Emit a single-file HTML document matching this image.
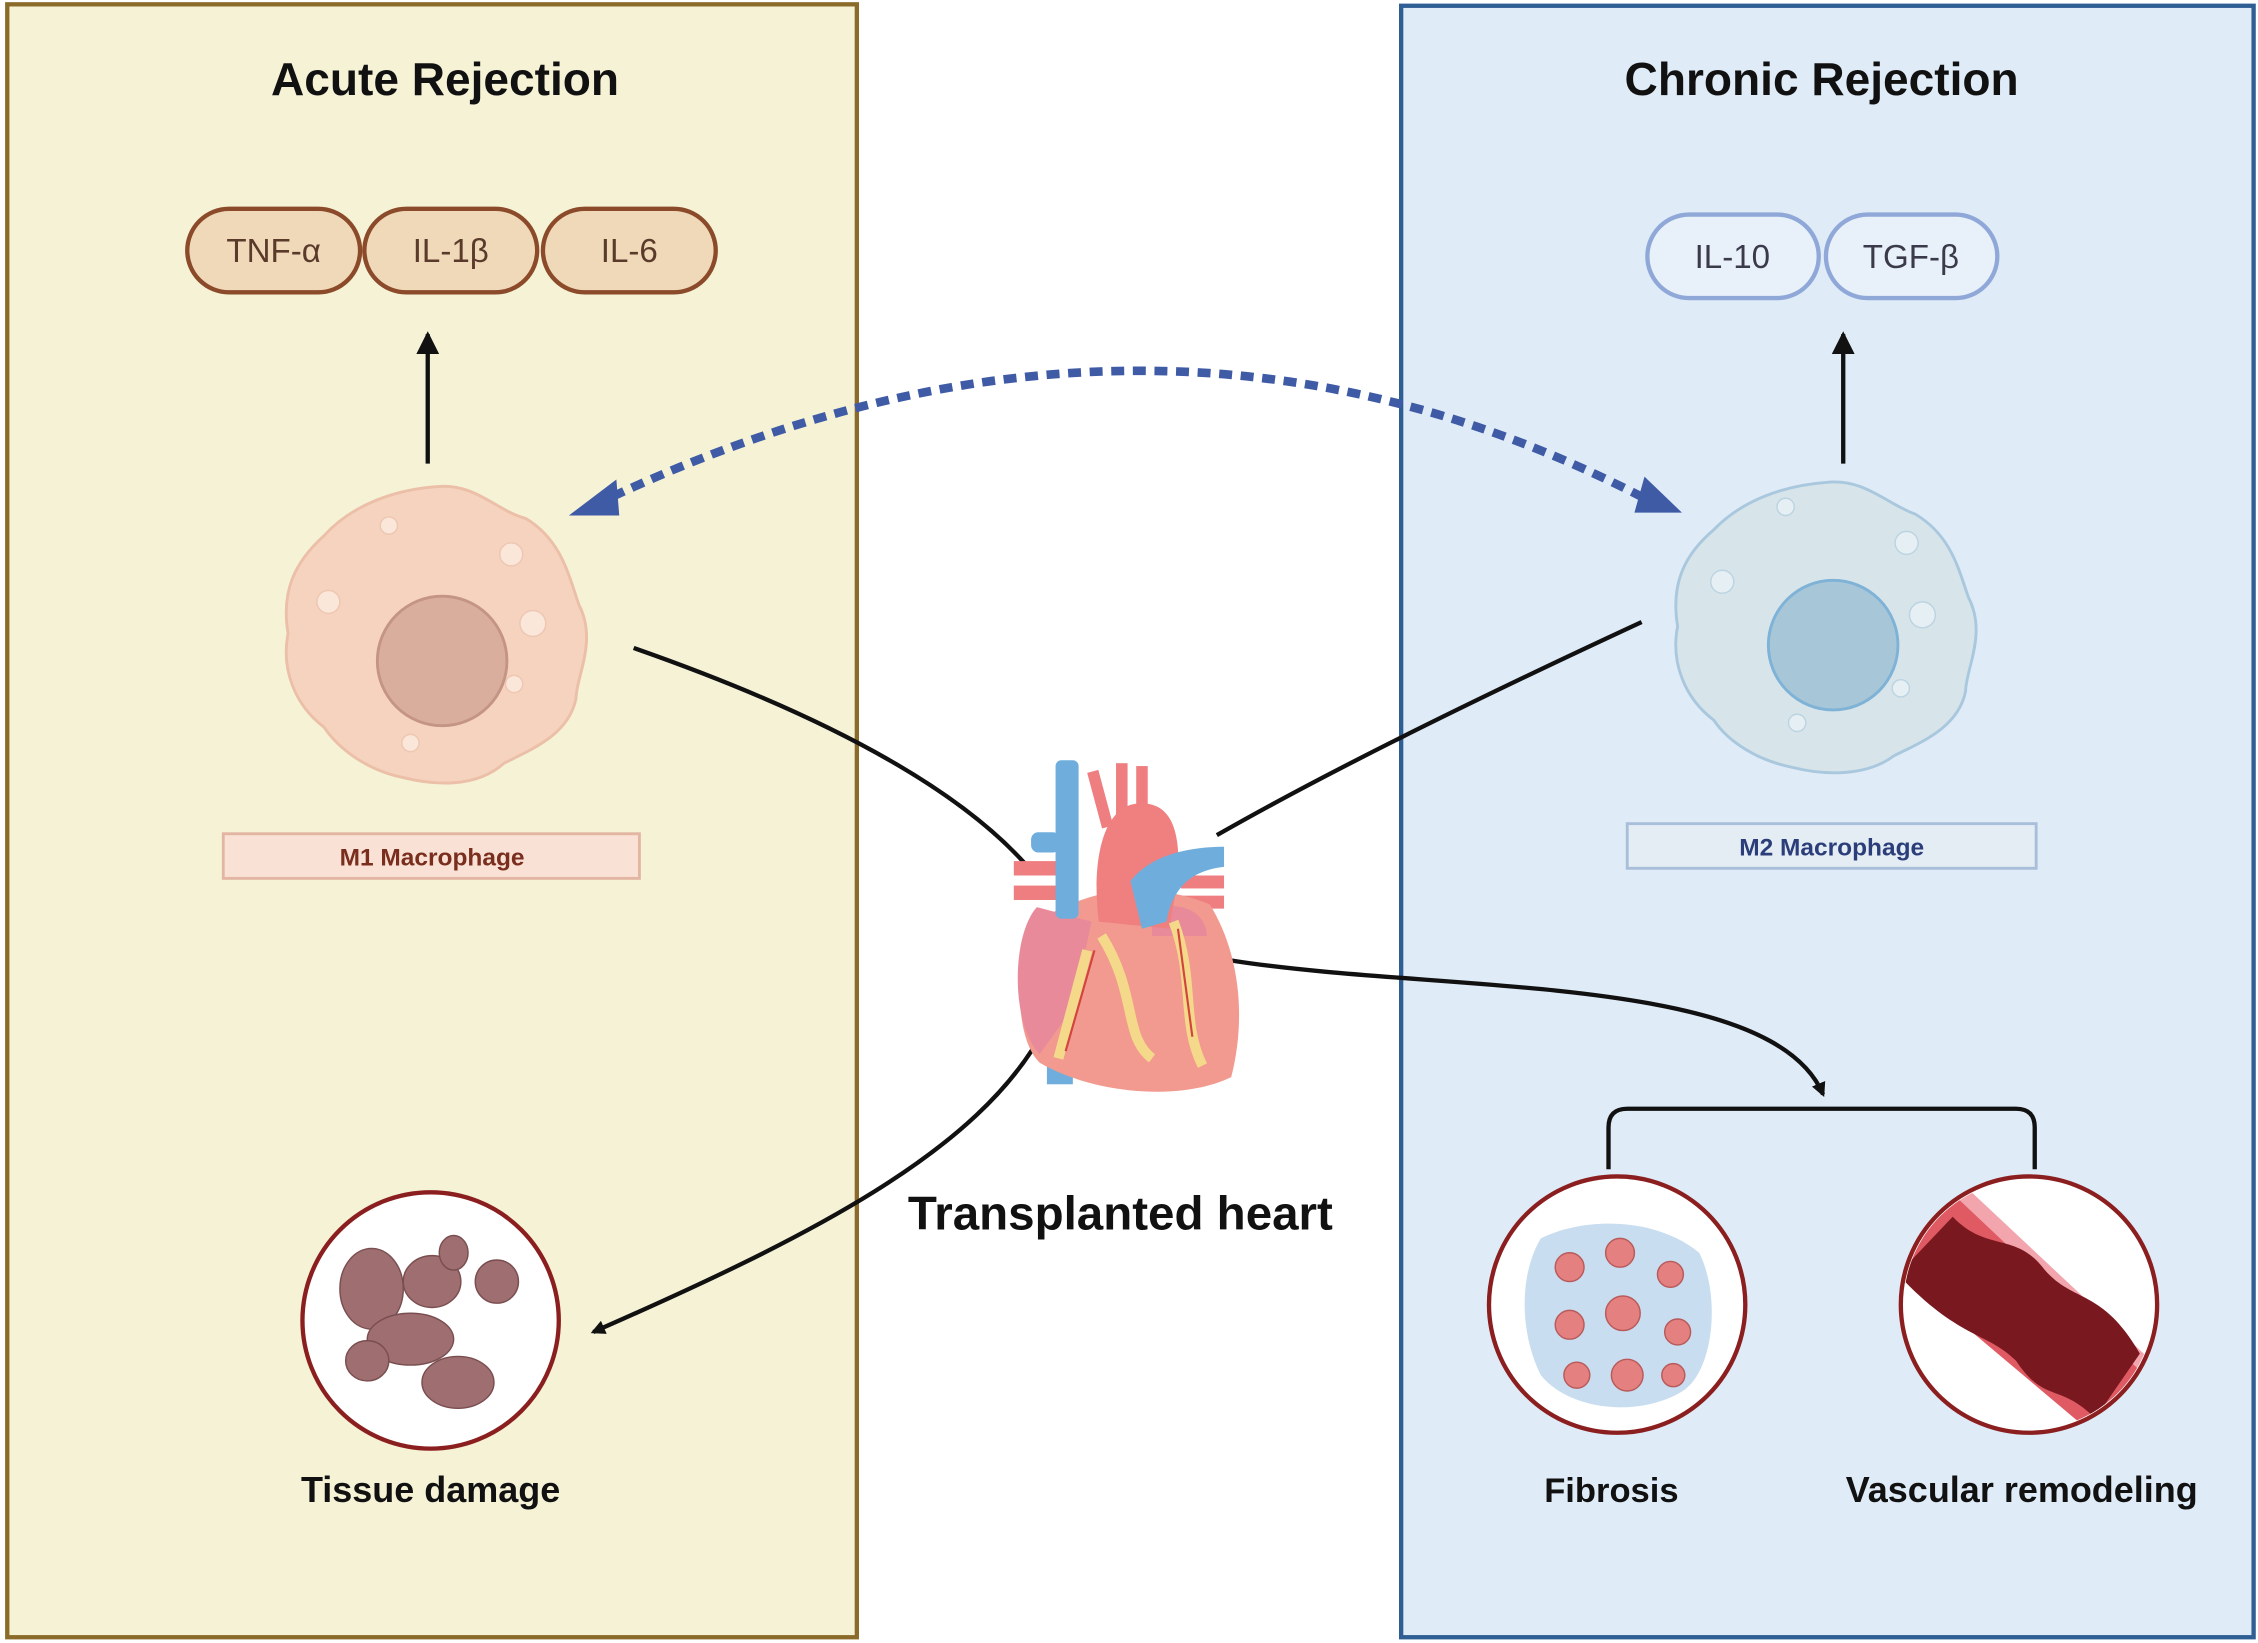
<!DOCTYPE html>
<html><head><meta charset="utf-8"><style>html,body{margin:0;padding:0;background:#fff}svg{display:block}</style></head>
<body>
<svg width="2258" height="1643" viewBox="0 0 1568 1141" xmlns="http://www.w3.org/2000/svg" font-family="Liberation Sans, sans-serif">
<defs>
<marker id="ah" markerWidth="10" markerHeight="10" refX="8" refY="5" orient="auto" markerUnits="userSpaceOnUse"><path d="M0,0 L10,5 L0,10 z" fill="#111"/></marker>
<marker id="ab" markerWidth="16" markerHeight="16" refX="14" refY="8" orient="auto" markerUnits="userSpaceOnUse"><path d="M0,0 L16,8 L0,16 z" fill="#111"/></marker>
</defs>
<rect x="0" y="0" width="1568" height="1141" fill="#fff"/>
<rect x="5" y="3" width="590" height="1134" fill="#F5F2D6" stroke="#8B6B2A" stroke-width="3"/>
<rect x="973" y="4" width="592" height="1133" fill="#DFEBF7" stroke="#2E5E93" stroke-width="3"/>
<text x="309" y="66" text-anchor="middle" font-size="32" font-weight="bold" fill="#111">Acute Rejection</text>
<text x="1265" y="66" text-anchor="middle" font-size="32" font-weight="bold" fill="#111">Chronic Rejection</text>
<g fill="#EFD9B9" stroke="#8B4A2A" stroke-width="3">
<rect x="130" y="145" width="120" height="58" rx="29"/>
<rect x="253" y="145" width="120" height="58" rx="29"/>
<rect x="377" y="145" width="120" height="58" rx="29"/>
</g>
<g font-size="23" fill="#5A3A2A" text-anchor="middle">
<text x="190" y="182">TNF-α</text><text x="313" y="182">IL-1β</text><text x="437" y="182">IL-6</text>
</g>
<g fill="#E8F0FA" stroke="#8FA8D8" stroke-width="3">
<rect x="1144" y="149" width="119" height="58" rx="29"/>
<rect x="1268" y="149" width="119" height="58" rx="29"/>
</g>
<g font-size="23" fill="#3A3A4A" text-anchor="middle">
<text x="1203" y="186">IL-10</text><text x="1327" y="186">TGF-β</text>
</g>
<line x1="297" y1="322" x2="297" y2="232" stroke="#111" stroke-width="3" marker-end="url(#ab)"/>
<line x1="1280" y1="322" x2="1280" y2="232" stroke="#111" stroke-width="3" marker-end="url(#ab)"/>
<path d="M425,345 Q800,170 1140,345" fill="none" stroke="#3F5BA6" stroke-width="6" stroke-dasharray="9 6"/>
<path d="M395,358 L428,333 L430,358 z" fill="#3F5BA6"/>
<path d="M1168,356 L1135,356 L1142,331 z" fill="#3F5BA6"/>
<!-- M1 -->
<path d="M303,338 C330,335 345,355 365,360 C390,375 395,400 402,420 C415,445 400,470 400,485 C395,510 370,520 350,530 C330,548 300,545 280,540 C255,535 235,520 225,505 C205,490 195,465 200,440 C195,410 205,390 225,372 C245,350 275,340 303,338 z" fill="#F6D3BE" stroke="#EBBFA8" stroke-width="2"/>
<circle cx="307" cy="459" r="45" fill="#D9AE9C" stroke="#C49484" stroke-width="2"/>
<g fill="#FBE6DA" stroke="#EDC7B2"><circle cx="355" cy="385" r="8"/><circle cx="370" cy="433" r="9"/><circle cx="228" cy="418" r="8"/><circle cx="270" cy="365" r="6"/><circle cx="285" cy="516" r="6"/><circle cx="357" cy="475" r="6"/></g>
<rect x="155" y="579" width="289" height="31" fill="#F9E2D5" stroke="#E3B6A4" stroke-width="2"/>
<text x="300" y="601" text-anchor="middle" font-size="17" font-weight="bold" fill="#7A2E1E">M1 Macrophage</text>
<!-- M2 -->
<path d="M1268,335 C1295,332 1310,350 1330,357 C1355,372 1360,395 1367,415 C1380,440 1365,465 1365,480 C1360,505 1335,515 1315,525 C1295,540 1265,538 1245,533 C1220,528 1200,515 1190,500 C1170,485 1160,460 1165,435 C1160,405 1170,385 1190,368 C1210,347 1240,337 1268,335 z" fill="#D7E4EA" stroke="#A9C8DE" stroke-width="2"/>
<circle cx="1273" cy="448" r="45" fill="#A7C6D8" stroke="#7EB2D6" stroke-width="2"/>
<g fill="#E6EFF3" stroke="#BCD4E2"><circle cx="1240" cy="352" r="6"/><circle cx="1324" cy="377" r="8"/><circle cx="1196" cy="404" r="8"/><circle cx="1335" cy="427" r="9"/><circle cx="1320" cy="478" r="6"/><circle cx="1248" cy="502" r="6"/></g>
<rect x="1130" y="572" width="284" height="31" fill="#E4ECF4" stroke="#A9BFD9" stroke-width="2"/>
<text x="1272" y="594" text-anchor="middle" font-size="17" font-weight="bold" fill="#2B3E7A">M2 Macrophage</text>
<!-- connectors -->
<path d="M440,450 Q640,520 712,600" fill="none" stroke="#111" stroke-width="3"/>
<path d="M1140,432 Q950,520 845,580" fill="none" stroke="#111" stroke-width="3"/>
<path d="M855,667 C1000,690 1230,675 1266,760" fill="none" stroke="#111" stroke-width="3" marker-end="url(#ah)"/>
<path d="M725,715 C680,800 560,860 412,925" fill="none" stroke="#111" stroke-width="3" marker-end="url(#ah)"/>
<path d="M1117,812 V783 Q1117,770 1130,770 H1400 Q1413,770 1413,783 V812" fill="none" stroke="#111" stroke-width="3"/>
<!-- heart -->
<g>
<rect x="727" y="685" width="18" height="68" fill="#6FAEDC"/>
<rect x="760" y="535" width="8" height="40" fill="#EE7E80" transform="rotate(-15 764 555)"/><rect x="775" y="530" width="8" height="40" fill="#EE7E80"/><rect x="789" y="532" width="8" height="40" fill="#EE7E80"/>
<rect x="704" y="598" width="30" height="10" fill="#EE7E80"/><rect x="704" y="615" width="30" height="10" fill="#EE7E80"/>
<rect x="820" y="608" width="30" height="9" fill="#EE7E80"/><rect x="820" y="622" width="30" height="9" fill="#EE7E80"/>
<path d="M720,640 C705,660 703,720 722,738 C760,760 820,765 855,748 C866,705 860,660 840,628 C800,612 760,615 720,640 z" fill="#F29A8F"/>
<path d="M720,630 C702,650 702,712 722,732 L745,700 L758,640 z" fill="#E88A9A"/>
<path d="M800,630 C830,625 838,640 838,650 L800,650 z" fill="#E88A9A"/>
<rect x="733" y="528" width="16" height="110" rx="4" fill="#6FAEDC"/>
<rect x="716" y="578" width="20" height="14" rx="5" fill="#6FAEDC"/>
<path d="M763,640 C758,600 765,560 790,558 C815,556 820,580 818,610 L812,645 z" fill="#F08080"/>
<path d="M785,612 C800,592 830,588 850,588 L850,602 C832,604 815,612 810,640 L793,645 z" fill="#6FAEDC"/>
<path d="M765,650 C790,690 780,720 800,735 M815,640 C830,680 820,710 835,740 M755,660 L735,735" stroke="#F5D98A" stroke-width="7" fill="none"/>
<path d="M760,660 L740,730 M818,645 L828,720" stroke="#D2453F" stroke-width="1.5" fill="none"/>
</g>
<text x="778" y="854" text-anchor="middle" font-size="33" font-weight="bold" fill="#111">Transplanted heart</text>
<!-- tissue damage -->
<circle cx="299" cy="917" r="89" fill="#fff" stroke="#8B1E1E" stroke-width="3"/>
<g fill="#9E6E70" stroke="#7A4E50"><ellipse cx="258" cy="895" rx="22" ry="28"/><ellipse cx="300" cy="890" rx="20" ry="18"/><ellipse cx="315" cy="870" rx="10" ry="12"/><ellipse cx="345" cy="890" rx="15" ry="15"/><ellipse cx="285" cy="930" rx="30" ry="18"/><ellipse cx="255" cy="945" rx="15" ry="14"/><ellipse cx="318" cy="960" rx="25" ry="18"/></g>
<text x="299" y="1043" text-anchor="middle" font-size="25" font-weight="bold" fill="#111">Tissue damage</text>
<!-- fibrosis -->
<circle cx="1123" cy="906" r="89" fill="#fff" stroke="#8B1E1E" stroke-width="3"/>
<path d="M1070,860 C1100,845 1150,845 1180,870 C1195,900 1190,950 1170,965 C1140,985 1090,980 1070,955 C1055,925 1055,885 1070,860 z" fill="#C9DDF0"/>
<g fill="#E58080" stroke="#B85A5A"><circle cx="1090" cy="880" r="10"/><circle cx="1125" cy="870" r="10"/><circle cx="1160" cy="885" r="9"/><circle cx="1090" cy="920" r="10"/><circle cx="1127" cy="912" r="12"/><circle cx="1165" cy="925" r="9"/><circle cx="1095" cy="955" r="9"/><circle cx="1130" cy="955" r="11"/><circle cx="1162" cy="955" r="8"/></g>
<text x="1119" y="1043" text-anchor="middle" font-size="24" font-weight="bold" fill="#111">Fibrosis</text>
<!-- vascular -->
<circle cx="1409" cy="906" r="89" fill="#fff" stroke="#8B1E1E" stroke-width="3"/>
<clipPath id="vc"><circle cx="1409" cy="906" r="87"/></clipPath>
<g clip-path="url(#vc)">
<path d="M1300,860 L1350,810 L1510,960 L1470,1010 z" fill="#F2A5AC"/>
<path d="M1310,875 L1355,828 L1500,965 L1462,1003 z" fill="#E05A63"/>
<path d="M1318,885 L1356,845 C1380,870 1400,855 1420,882 C1440,905 1460,895 1486,940 L1455,985 C1430,960 1420,975 1400,945 C1380,925 1360,930 1318,885 z" fill="#7A1820"/>
</g>
<text x="1404" y="1043" text-anchor="middle" font-size="25" font-weight="bold" fill="#111">Vascular remodeling</text>
</svg>
</body></html>
